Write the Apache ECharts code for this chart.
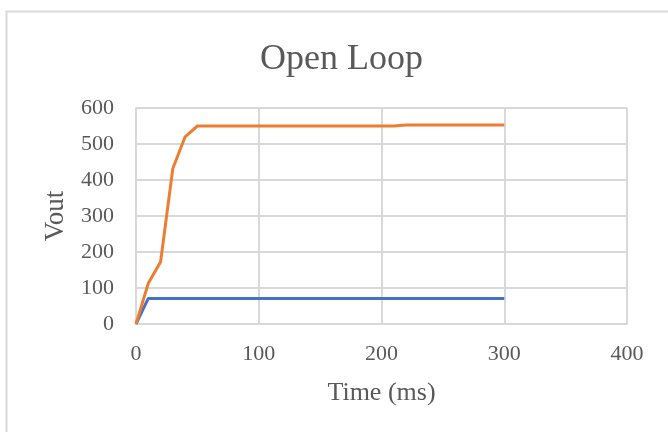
<!DOCTYPE html>
<html>
<head>
<meta charset="utf-8">
<script src="https://cdn.jsdelivr.net/npm/echarts@6/dist/echarts.min.js"></script>
<style>html,body{margin:0;padding:0;background:#fff;}#chart{width:668px;height:432px;}</style>
</head>
<body>
<div id="chart"></div>
<script>
const timeMs = [0,10,20,30,40,50,60,70,80,90,100,110,120,130,140,150,160,170,180,190,200,210,220,230,240,250,260,270,280,290,300];
const vOrange = [0,113,172,432,520,550,550,550,550,550,550,550,550,550,550,550,550,550,550,550,550,550,553,553,553,553,553,553,553,553,553];
const vBlue = [0,71,71,71,71,71,71,71,71,71,71,71,71,71,71,71,71,71,71,71,71,71,71,71,71,71,71,71,71,71,71];
const xTicks = [0,100,200,300,400];
const yTicks = [0,100,200,300,400,500,600];

const font = '"Liberation Serif","Times New Roman",serif';
const textColor = '#595959';
const gridColor = '#D9D9D9';

const chart = echarts.init(document.getElementById('chart'), null, {renderer:'canvas'});
chart.setOption({
  animation:false,
  backgroundColor:'#fff',
  graphic:[{type:'rect',shape:{x:6.5,y:11.5,width:700,height:450},style:{fill:'none',stroke:gridColor,lineWidth:2},silent:true,z:-1}],
  title:{text:'Open Loop',left:255,top:37,textStyle:{fontFamily:font,fontSize:36,fontWeight:'normal',color:textColor}},
  grid:{left:136,right:41,top:108,bottom:108,containLabel:false},
  xAxis:{type:'value',min:xTicks[0],max:xTicks[xTicks.length-1],interval:100,
    name:'Time (ms)',nameLocation:'middle',nameGap:56,
    nameTextStyle:{fontFamily:font,fontSize:26,color:textColor},
    axisLine:{show:true,lineStyle:{color:gridColor,width:2}},
    axisTick:{show:false},
    axisLabel:{fontFamily:font,fontSize:22,color:textColor,margin:19},
    splitLine:{show:true,lineStyle:{color:gridColor,width:2}}},
  yAxis:{type:'value',min:yTicks[0],max:yTicks[yTicks.length-1],interval:100,
    name:'Vout',nameLocation:'middle',nameGap:67,nameRotate:90,
    nameTextStyle:{fontFamily:font,fontSize:27,color:textColor},
    axisLine:{show:true,lineStyle:{color:gridColor,width:2}},
    axisTick:{show:false},
    axisLabel:{fontFamily:font,fontSize:22,color:textColor,margin:22},
    splitLine:{show:true,lineStyle:{color:gridColor,width:2}}},
  series:[
    {type:'line',data:timeMs.map((t,i)=>[t,vBlue[i]]),showSymbol:false,lineStyle:{color:'#4472C4',width:3},itemStyle:{color:'#4472C4'}},
    {type:'line',data:timeMs.map((t,i)=>[t,vOrange[i]]),showSymbol:false,lineStyle:{color:'#ED7D31',width:3},itemStyle:{color:'#ED7D31'}}
  ]
});
</script>
</body>
</html>
